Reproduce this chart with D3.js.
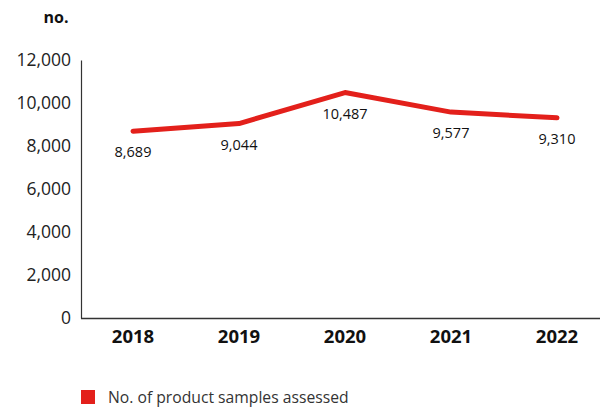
<!DOCTYPE html>
<html>
<head>
<meta charset="utf-8">
<script src="https://cdn.jsdelivr.net/npm/d3@7"></script>
<style>
  body { margin: 0; background: #fff; }
  svg { display: block; font-family: "Open Sans", sans-serif; }
</style>
</head>
<body>
<svg id="chart" width="600" height="408"></svg>
<script>
const years = ["2018", "2019", "2020", "2021", "2022"];
const samples = [8689, 9044, 10487, 9577, 9310];
const yTicks = [0, 2000, 4000, 6000, 8000, 10000, 12000];
const seriesName = "No. of product samples assessed";
const unitLabel = "no.";

const red = "#e3201b";
const svg = d3.select("#chart");

const x = d3.scaleBand().domain(years).range([80, 610]);
const y = d3.scaleLinear().domain([0, 12000]).range([318, 60]);
const fmt = d3.format(",");

// y axis
const yAxis = svg.append("g")
  .attr("transform", "translate(81,0)")
  .call(d3.axisLeft(y).tickValues(yTicks).tickFormat(fmt).tickSize(0).tickPadding(10));
yAxis.select(".domain").attr("stroke", "#333").attr("stroke-width", 1.2);
yAxis.selectAll("text").attr("font-size", 17.5).attr("fill", "#222")
  .attr("font-family", "Open Sans, sans-serif");

// x axis
const xAxis = svg.append("g")
  .attr("transform", "translate(0,318.5)")
  .call(d3.axisBottom(x).tickSize(0).tickPadding(11));
xAxis.select(".domain").attr("stroke", "#333").attr("stroke-width", 1.5)
  .attr("d", "M81,0H600");
xAxis.selectAll("text").attr("font-size", 18.5).attr("font-weight", "bold").attr("fill", "#111")
  .attr("font-family", "Open Sans, sans-serif");

// unit label
svg.append("text").attr("x", 56).attr("y", 23).attr("text-anchor", "middle")
  .attr("font-size", 16).attr("font-weight", "bold").attr("fill", "#111").text(unitLabel);

// line
const line = d3.line()
  .x((d, i) => x(years[i]) + x.bandwidth() / 2)
  .y(d => y(d));
svg.append("path").datum(samples)
  .attr("d", line).attr("fill", "none").attr("stroke", red)
  .attr("stroke-width", 5).attr("stroke-linecap", "round").attr("stroke-linejoin", "round");

// value labels
svg.selectAll(".val").data(samples).enter().append("text")
  .attr("x", (d, i) => x(years[i]) + x.bandwidth() / 2)
  .attr("y", d => y(d) + 26)
  .attr("text-anchor", "middle").attr("font-size", 14.5).attr("fill", "#111")
  .text(d => fmt(d));

// legend
svg.append("rect").attr("x", 81).attr("y", 390).attr("width", 14).attr("height", 14).attr("fill", red);
svg.append("text").attr("x", 108).attr("y", 403).attr("font-size", 15.7).attr("fill", "#333").text(seriesName);
</script>
</body>
</html>
